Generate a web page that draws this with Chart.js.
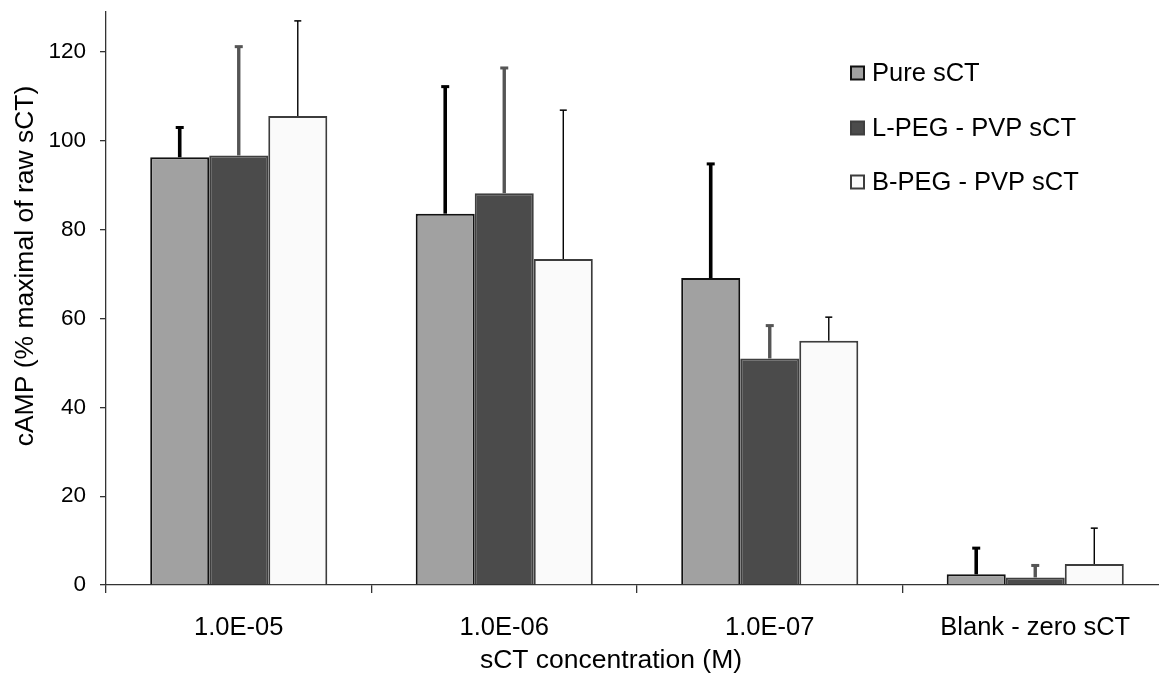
<!DOCTYPE html>
<html>
<head>
<meta charset="utf-8">
<script src="https://cdn.jsdelivr.net/npm/chart.js@4/dist/chart.umd.min.js"></script>
<style>
html,body{margin:0;padding:0;overflow:hidden;background:#fff;}
#wrap{position:relative;width:1170px;height:676px;}
</style>
</head>
<body>
<div id="wrap"><canvas id="c"></canvas></div>
<script>
// ---- data ----
const categories = ['1.0E-05', '1.0E-06', '1.0E-07', 'Blank - zero sCT'];
const seriesNames = ['Pure sCT', 'L-PEG - PVP sCT', 'B-PEG - PVP sCT'];
const pureValues = [96.3, 83.6, 69.1, 2.4];
const pureErrors = [6.7, 28.6, 25.7, 5.9];
const lpegValues = [96.7, 88.2, 51.0, 1.7];
const lpegErrors = [24.5, 28.2, 7.4, 2.7];
const bpegValues = [105.6, 73.4, 55.0, 4.7];
const bpegErrors = [21.4, 33.5, 5.3, 8.1];
const yTicks = [0, 20, 40, 60, 80, 100, 120];
const xTitle = 'sCT concentration (M)';
const yTitle = 'cAMP (% maximal of raw sCT)';

const FONT = "'Liberation Sans', Arial, sans-serif";
const errStyles = [
  {color: '#000000', width: 3.6, cap: 8, capH: 3},
  {color: '#555555', width: 3.4, cap: 8, capH: 3},
  {color: '#000000', width: 1.4, cap: 7, capH: 1.5}
];

const errorBarPlugin = {
  id: 'errorBars',
  afterDatasetsDraw(chart) {
    const ctx = chart.ctx;
    const y = chart.scales.y;
    chart.data.datasets.forEach((ds, i) => {
      const meta = chart.getDatasetMeta(i);
      const st = errStyles[i];
      meta.data.forEach((el, j) => {
        const v = ds.data[j], e = ds.errors[j];
        const yTop = y.getPixelForValue(v + e);
        const yBase = el.y;
        ctx.save();
        ctx.strokeStyle = st.color;
        ctx.fillStyle = st.color;
        ctx.lineWidth = st.width;
        ctx.beginPath();
        ctx.moveTo(el.x, yBase);
        ctx.lineTo(el.x, yTop);
        ctx.stroke();
        ctx.fillRect(el.x - st.cap / 2, yTop - st.capH / 2, st.cap, st.capH);
        ctx.restore();
      });
    });
  }
};

const legendPlugin = {
  id: 'customLegend',
  afterDraw(chart) {
    const ctx = chart.ctx;
    const x0 = 851, rows = [73, 128, 182];
    chart.data.datasets.forEach((ds, i) => {
      const cy = rows[i];
      ctx.save();
      ctx.fillStyle = ds.backgroundColor;
      ctx.strokeStyle = ds.borderColor;
      ctx.lineWidth = 2;
      ctx.fillRect(x0, cy - 6.5, 13, 13);
      ctx.strokeRect(x0, cy - 6.5, 13, 13);
      ctx.fillStyle = '#000';
      ctx.font = '25.5px ' + FONT;
      ctx.textBaseline = 'middle';
      ctx.textAlign = 'left';
      ctx.fillText(ds.label, 872, cy + 1);
      ctx.restore();
    });
  }
};

const axisTitlePlugin = {
  id: 'axisTitles',
  afterDraw(chart) {
    const ctx = chart.ctx;
    ctx.save();
    ctx.fillStyle = '#000';
    ctx.font = '26.5px ' + FONT;
    ctx.textAlign = 'center';
    ctx.textBaseline = 'alphabetic';
    ctx.fillText(xTitle, 611, 668);
    ctx.translate(33, 266);
    ctx.rotate(-Math.PI / 2);
    ctx.fillText(yTitle, 0, 0);
    ctx.restore();
  }
};

new Chart(document.getElementById('c'), {
  type: 'bar',
  data: {
    labels: categories,
    datasets: [
      {label: seriesNames[0], data: pureValues, errors: pureErrors, backgroundColor: '#a1a1a1', borderColor: '#111111', borderWidth: 2},
      {label: seriesNames[1], data: lpegValues, errors: lpegErrors, backgroundColor: '#4b4b4b', borderColor: '#3f3f3f', borderWidth: 2},
      {label: seriesNames[2], data: bpegValues, errors: bpegErrors, backgroundColor: '#fafafa', borderColor: '#3c3c3c', borderWidth: 2}
    ]
  },
  options: {
    responsive: true,
    maintainAspectRatio: false,
    animation: false,
    layout: {padding: {top: 12, right: 2, left: 0, bottom: 0}},
    datasets: {bar: {categoryPercentage: 0.667, barPercentage: 1.0}},
    plugins: {legend: {display: false}, tooltip: {enabled: false}},
    scales: {
      x: {
        grid: {display: true, offset: true, drawOnChartArea: false, drawTicks: true, tickLength: 8, color: '#333', lineWidth: 1.3},
        border: {display: true, color: '#333', width: 1.3},
        ticks: {color: '#000', font: {family: FONT, size: 25.5}, padding: 20, maxRotation: 0},
        title: {display: false, text: xTitle},
        afterFit(s) { s.height = 91; }
      },
      y: {
        min: 0, max: 129,
        afterBuildTicks(s) { s.ticks = yTicks.map(v => ({value: v})); },
        grid: {display: true, drawOnChartArea: false, drawTicks: true, tickLength: 6, color: '#333', lineWidth: 1.3},
        border: {display: true, color: '#333', width: 1.3},
        ticks: {color: '#000', font: {family: FONT, size: 22.5}, padding: 14},
        title: {display: false, text: yTitle},
        afterFit(s) { s.width = 106; s.paddingTop = 0; s.paddingBottom = 0; }
      }
    }
  },
  plugins: [errorBarPlugin, legendPlugin, axisTitlePlugin]
});
</script>
</body>
</html>
